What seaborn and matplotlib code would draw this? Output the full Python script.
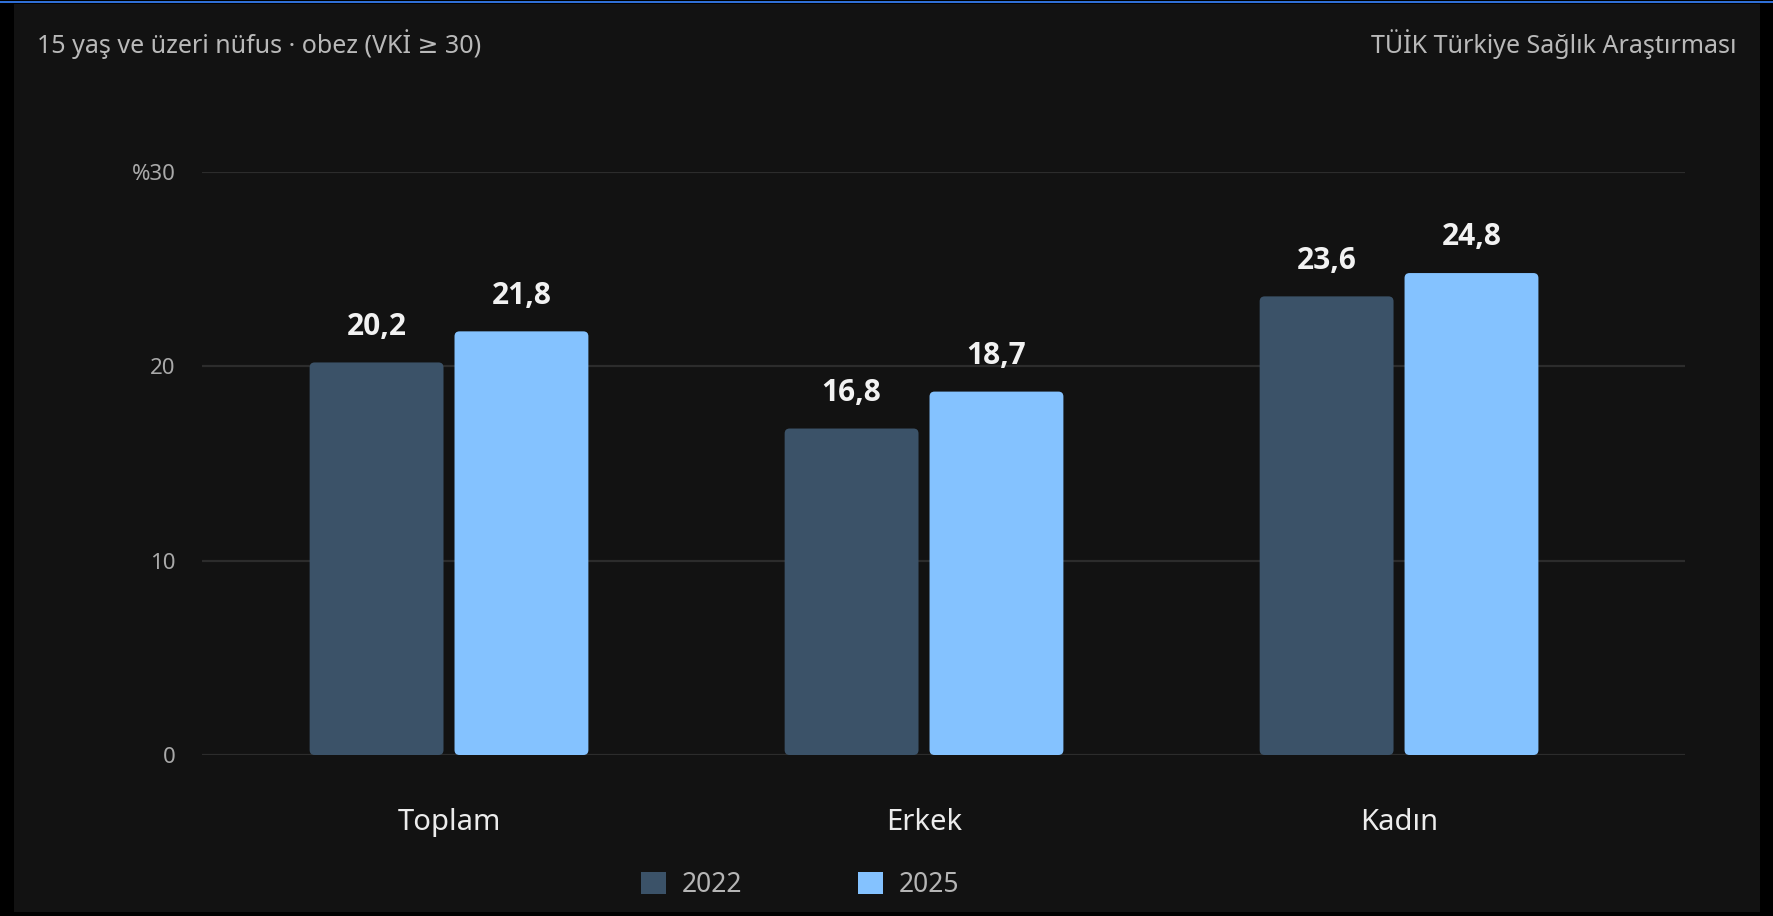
import numpy as np
import pandas as pd
import matplotlib
matplotlib.use("Agg")
import matplotlib.pyplot as plt
import seaborn as sns
from matplotlib import font_manager
from matplotlib.patches import Rectangle, FancyBboxPatch

# data
kategoriler = ["Toplam", "Erkek", "Kadın"]
yillar = ["2022", "2025"]
oran_2022 = [20.2, 16.8, 23.6]
oran_2025 = [21.8, 18.7, 24.8]
y_ticks = [0, 10, 20, 30]
y_tick_labels = ["0", "10", "20", "%30"]

baslik = "15 yaş ve üzeri nüfus · obez (VKİ ≥ 30)"
kaynak = "TÜİK Türkiye Sağlık Araştırması"

renkler = ["#3b5268", "#84c2ff"]
panel_bg = "#121212"
grid_renk = "#2c2c2c"

df = pd.DataFrame({
    "kategori": kategoriler * 2,
    "oran": oran_2022 + oran_2025,
    "yil": [yillar[0]] * 3 + [yillar[1]] * 3,
})

sns.set_theme(style="dark")
plt.rcParams["font.family"] = ["Noto Sans", "DejaVu Sans"]

# pick a family that really has a bold face for the value labels
bold_fam = "DejaVu Sans"
for fam in ["Noto Sans", "Open Sans", "Lato", "Roboto"]:
    if any(f.name == fam and f.weight in (700, "bold") for f in font_manager.fontManager.ttflist):
        bold_fam = fam
        break

W, H = 1774, 916
fig = plt.figure(figsize=(W / 100, H / 100), dpi=100)
fig.patch.set_facecolor("black")

# dark panel + selection line on top
fig.add_artist(Rectangle((14 / W, 1 - 912 / H), (1760 - 14) / W, (912 - 4) / H,
                         transform=fig.transFigure, facecolor=panel_bg,
                         edgecolor="none", zorder=0))
fig.add_artist(Rectangle((0, 1 - 3 / H), 1, 2 / H, transform=fig.transFigure,
                         facecolor="#2f6fd6", edgecolor="none", zorder=1))

ax_left, ax_right = 202 / W, 1685 / W
ax_bottom, ax_top = 1 - 755 / H, 1 - 172 / H
ax = fig.add_axes([ax_left, ax_bottom, ax_right - ax_left, ax_top - ax_bottom])
ax.set_facecolor(panel_bg)

sns.barplot(data=df, x="kategori", y="oran", hue="yil", palette=renkler,
            width=0.61, gap=0.076, saturation=1, ax=ax, legend=True)

ax.set_xlim(-0.52, 2.602)
ax.set_ylim(0, 30)
ax.set_yticks(y_ticks)
ax.set_yticklabels(y_tick_labels)
ax.set_xlabel("")
ax.set_ylabel("")
for s in ax.spines.values():
    s.set_visible(False)
ax.grid(False)
for t in y_ticks:
    ax.axhline(t, color=grid_renk, lw=1.6, zorder=0)
ax.tick_params(axis="y", length=0, pad=19, labelsize=16, labelcolor="#a9a9a9")
ax.tick_params(axis="x", length=0, pad=38, labelsize=21, labelcolor="#ececec")

# value labels
for cont in ax.containers:
    ax.bar_label(cont, labels=[f"{v:.1f}".replace(".", ",") for v in cont.datavalues],
                 padding=15, fontsize=21.5, fontweight="bold", color="#f2f2f2",
                 family=[bold_fam, "DejaVu Sans"])

# rounded bars
fig.canvas.draw()
bb = ax.get_window_extent()
px_x = bb.width / (ax.get_xlim()[1] - ax.get_xlim()[0])
px_y = bb.height / (ax.get_ylim()[1] - ax.get_ylim()[0])
r = 5 / px_x
for cont in ax.containers:
    for bar in cont:
        x0, y0 = bar.get_x(), bar.get_y()
        w, h = bar.get_width(), bar.get_height()
        ax.add_patch(FancyBboxPatch((x0, y0), w, h,
                                    boxstyle=f"round,pad=0,rounding_size={r}",
                                    mutation_aspect=px_x / px_y,
                                    facecolor=bar.get_facecolor(), edgecolor="none",
                                    zorder=2))
        bar.set_visible(False)

handles, labels = ax.get_legend_handles_labels()
ax.get_legend().remove()
for hd in handles:
    hd.set_edgecolor("none")
fig.legend(handles, labels, loc="center", bbox_to_anchor=(800 / W, 1 - 885 / H),
           ncol=2, frameon=False, fontsize=19, labelcolor="#b5b5b5",
           handlelength=0.95, handleheight=0.95, handletextpad=0.6,
           columnspacing=4.4)

fig.text(37 / W, 1 - 44 / H, baslik, fontsize=18, color="#b9b9b9",
         ha="left", va="center")
fig.text(1737 / W, 1 - 44 / H, kaynak, fontsize=18, color="#b9b9b9",
         ha="right", va="center")

fig.savefig("out.png", dpi=100, facecolor=fig.get_facecolor())
